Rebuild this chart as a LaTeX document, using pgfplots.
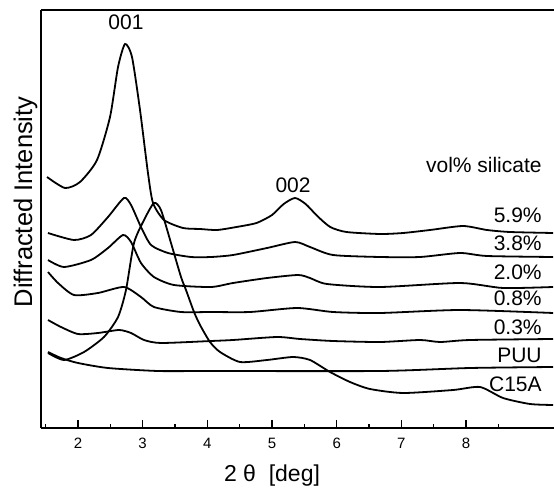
\documentclass[border=0pt]{standalone}
\usepackage{pgfplots}
\pgfplotsset{compat=1.18}
\usepackage{fontspec}
\setmainfont{Liberation Sans}
\begin{document}
\begin{tikzpicture}
\begin{axis}[
  scale only axis, width=256.5pt, height=209pt,
  xmin=1.428, xmax=9.36, ymin=0, ymax=418,
  axis x line*=bottom, axis y line*=left,
  axis line style={line width=0.75pt, -},
  ytick=\empty,
  xtick={2,3,4,5,6,7,8},
  minor xtick={1.5,2.5,3.5,4.5,5.5,6.5,7.5,8.5},
  tick align=inside,
  major tick length=4pt, minor tick length=2pt,
  every tick/.style={black, line width=0.75pt},
  xticklabel style={font=\fontsize{7.5}{8}\selectfont, yshift=-1.5pt},
  /pgf/number format/assume math mode=true,
  clip=false,
  cycle list={black\\},
  every axis plot/.append style={black, solid, line width=0.9pt, smooth, tension=0.4, mark=none},
]
\addplot coordinates {(1.521,251) (1.799,240) (2.031,246) (2.294,268) (2.495,311) (2.619,361) (2.727,384) (2.835,371) (2.959,318) (3.082,255) (3.160,225) (3.330,208) (3.624,200) (3.887,199) (4.149,198) (4.450,201) (4.760,205) (5.000,213) (5.180,224) (5.356,230) (5.520,224) (5.700,212) (5.900,201) (6.150,196) (6.670,194) (7.026,195) (7.443,198) (7.953,202) (8.324,198) (8.680,196) (9.345,195)};
\addplot coordinates {(1.536,195) (1.938,188) (2.201,193) (2.464,211) (2.711,230) (2.820,223) (2.974,201) (3.129,183) (3.392,175) (3.747,171) (4.057,171) (4.397,173) (4.923,180) (5.356,186) (5.587,181) (5.943,173) (6.670,171) (7.288,171) (7.907,175) (8.324,172) (9.345,171)};
\addplot coordinates {(1.536,168) (1.784,161) (2.201,168) (2.464,180) (2.696,193) (2.820,186) (2.974,165) (3.175,151) (3.484,143) (4.057,141) (4.397,145) (4.923,150) (5.402,153) (5.587,150) (5.850,144) (6.670,141) (7.907,145) (8.572,140) (9.345,141)};
\addplot coordinates {(1.536,156) (1.691,145) (1.938,133) (2.309,135) (2.711,141) (2.974,131) (3.175,121) (3.593,116) (4.057,116) (4.660,116) (5.387,120) (5.943,116) (6.670,115) (7.907,118) (9.345,115)};
\addplot coordinates {(1.536,108) (1.737,101) (2.000,94) (2.309,95) (2.634,98) (2.820,95) (3.021,88) (3.283,85) (4.057,87) (4.397,88) (5.077,91) (5.433,89) (5.943,87) (6.670,86) (7.288,88) (7.598,86) (8.062,88) (9.345,89)};
\addplot coordinates {(1.536,76) (1.737,70) (2.000,65) (2.464,60) (3.237,57) (4.057,57) (6.670,57) (8.062,60) (9.345,61)};
\addplot coordinates {(1.536,75) (1.784,68) (2.093,76) (2.402,91) (2.619,111) (2.742,138) (2.866,185) (3.021,208) (3.175,225) (3.283,218) (3.438,185) (3.593,151) (3.670,138) (3.794,116) (3.887,103) (4.041,86) (4.196,76) (4.505,66) (4.923,68) (5.325,71) (5.587,68) (5.897,56) (6.206,46) (6.515,39) (7.026,35) (7.799,38) (8.216,41) (8.572,30) (8.989,24) (9.345,23)};
\draw[line width=0.75pt] (rel axis cs:0,1) -- (rel axis cs:1,1);
\begin{scope}[every node/.style={font=\fontsize{10.5}{12}\selectfont, inner sep=0pt}]
\node at (axis cs:2.742,406) {001};
\node at (axis cs:5.325,243) {002};
\node[anchor=east] at (axis cs:9.175,263) {vol\% silicate};
\node[anchor=east] at (axis cs:9.175,213) {5.9\%};
\node[anchor=east] at (axis cs:9.175,185) {3.8\%};
\node[anchor=east] at (axis cs:9.175,156) {2.0\%};
\node[anchor=east] at (axis cs:9.175,130) {0.8\%};
\node[anchor=east] at (axis cs:9.175,101) {0.3\%};
\node[anchor=east] at (axis cs:9.175,73) {PUU};
\node[anchor=east] at (axis cs:9.175,44) {C15A};
\end{scope}
\node[rotate=90, anchor=base, font=\fontsize{12.75}{14}\selectfont, inner sep=0pt] at (rel axis cs:-0.0175,0.541) {Diffracted Intensity};
\node[anchor=base, font=\fontsize{11.5}{13}\selectfont, inner sep=0pt] at (axis cs:5.0,-54) {2 θ\ \ [deg]};
\end{axis}
\pgfresetboundingbox
\path (-20.5pt,-30.5pt) rectangle (256.5pt,214pt);
\end{tikzpicture}
\end{document}
